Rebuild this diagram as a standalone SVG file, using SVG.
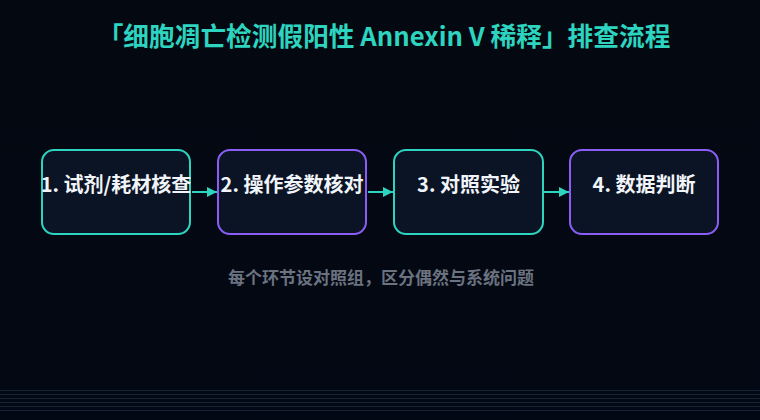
<svg xmlns="http://www.w3.org/2000/svg" width="760" height="420" viewBox="0 0 760 420">
  <defs>
    <marker id="arr" viewBox="0 0 10 10" refX="10" refY="5" markerWidth="10" markerHeight="10" markerUnits="userSpaceOnUse" orient="auto">
      <path d="M0,0 L10,5 L0,10 Z" fill="#2dd4bf"/>
    </marker>
    <linearGradient id="bg" x1="0" y1="0" x2="0" y2="1">
      <stop offset="0" stop-color="#040811"/>
      <stop offset="1" stop-color="#030914"/>
    </linearGradient>
  </defs>
  <style>
    .box { fill: #0a1425; stroke-width: 2; }
    .teal { stroke: #2dd4bf; }
    .purple { stroke: #8b5cf6; }
    .lbl { font-family: "Noto Sans CJK SC", "Noto Sans", sans-serif; font-weight: bold; font-size: 20px; fill: #f1f5f9; text-anchor: middle; }
    .conn { stroke: #2dd4bf; stroke-width: 2; fill: none; }
    .grid { stroke: #1b2a40; stroke-width: 1; opacity: 0.8; }
  </style>
  <rect width="760" height="420" fill="url(#bg)"/>
  <g id="bottom-lines">
    <line class="grid" x1="0" y1="390.5" x2="760" y2="390.5"/>
    <line class="grid" x1="0" y1="394.5" x2="760" y2="394.5"/>
    <line class="grid" x1="0" y1="398.5" x2="760" y2="398.5"/>
    <line class="grid" x1="0" y1="402.5" x2="760" y2="402.5"/>
    <line class="grid" x1="0" y1="406.5" x2="760" y2="406.5"/>
    <line class="grid" x1="0" y1="410.5" x2="760" y2="410.5"/>
  </g>
  <text id="title" x="384" y="46" font-family="'Noto Sans CJK SC', 'Noto Sans', sans-serif" font-weight="bold" font-size="25.7" fill="#2dd4bf" text-anchor="middle">「细胞凋亡检测假阳性 Annexin V 稀释」排查流程</text>
  <g id="connectors">
    <line class="conn" x1="192" y1="192" x2="217" y2="192" marker-end="url(#arr)"/>
    <line class="conn" x1="368" y1="192" x2="393" y2="192" marker-end="url(#arr)"/>
    <line class="conn" x1="544" y1="192" x2="569" y2="192" marker-end="url(#arr)"/>
  </g>
  <g id="node1">
    <rect class="box teal" x="42" y="150" width="148" height="84" rx="12"/>
    <text class="lbl" x="116" y="192">1. 试剂/耗材核查</text>
  </g>
  <g id="node2">
    <rect class="box purple" x="218" y="150" width="148" height="84" rx="12"/>
    <text class="lbl" x="292" y="192">2. 操作参数核对</text>
  </g>
  <g id="node3">
    <rect class="box teal" x="394" y="150" width="149" height="84" rx="12"/>
    <text class="lbl" x="468.5" y="192">3. 对照实验</text>
  </g>
  <g id="node4">
    <rect class="box purple" x="570" y="150" width="148" height="84" rx="12"/>
    <text class="lbl" x="644" y="192">4. 数据判断</text>
  </g>
  <text id="subtitle" x="381" y="284" font-family="'Noto Sans CJK SC', 'Noto Sans', sans-serif" font-weight="bold" font-size="17" fill="#6b7280" text-anchor="middle">每个环节设对照组，区分偶然与系统问题</text>
</svg>
